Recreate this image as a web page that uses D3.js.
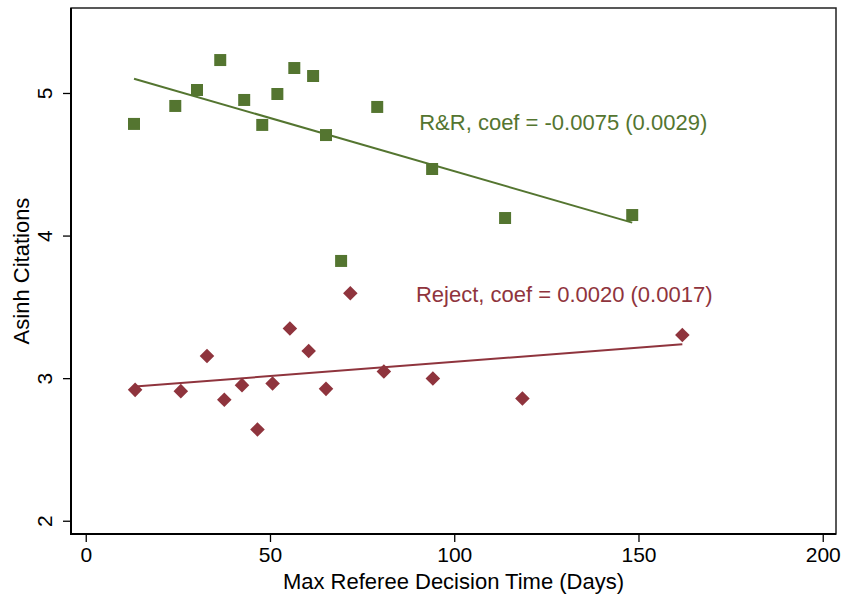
<!DOCTYPE html>
<html>
<head>
<meta charset="utf-8">
<script src="https://cdn.jsdelivr.net/npm/d3@7"></script>
<style>
  html, body { margin: 0; padding: 0; background: #fff; }
  svg { display: block; font-family: "Liberation Sans", Arial, sans-serif; }
</style>
</head>
<body>
<svg id="chart" width="842" height="597"></svg>
<script>
// ---- data ----
const rrDays = [13.1, 24.3, 30.2, 36.5, 43.0, 47.9, 52.0, 56.6, 61.7, 65.2, 69.3, 79.1, 94.0, 113.8, 148.3];
const rrCites = [4.783, 4.909, 5.021, 5.231, 4.951, 4.776, 4.993, 5.175, 5.119, 4.705, 3.822, 4.902, 4.467, 4.123, 4.144];
const rjDays = [13.4, 25.8, 32.9, 37.6, 42.4, 46.6, 50.7, 55.4, 60.5, 65.2, 71.8, 80.9, 94.2, 118.5, 161.9];
const rjCites = [2.918, 2.909, 3.156, 2.848, 2.951, 2.640, 2.962, 3.348, 3.191, 2.925, 3.596, 3.046, 2.997, 2.857, 3.302];
const rrFit = [[13.1, 5.100], [148.3, 4.091]];
const rjFit = [[13.4, 2.941], [161.9, 3.238]];
const xTicks = [0, 50, 100, 150, 200];
const yTicks = [2, 3, 4, 5];
const rrLabel = "R&R, coef = -0.0075 (0.0029)";
const rjLabel = "Reject, coef = 0.0020 (0.0017)";
const rrLabelPos = [90.5, 4.7405];
const rjLabelPos = [89.6, 3.537];
const xTitle = "Max Referee Decision Time (Days)";
const yTitle = "Asinh Citations";

// ---- layout ----
const green = "#547530", red = "#8f343d";
const pL = 71, pR = 836, pT = 8, pB = 534;
const svg = d3.select("#chart");
const x = d3.scaleLinear().domain([-4, 203.6]).range([pL, pR]);
const y = d3.scaleLinear().domain([1.907, 5.596]).range([pB, pT]);

// frame
svg.append("rect").attr("x", pL).attr("y", pT)
  .attr("width", pR - pL).attr("height", pB - pT)
  .attr("fill", "none").attr("stroke", "#222").attr("stroke-width", 1.5);

// axes
const xAxis = svg.append("g").attr("transform", `translate(0,${pB})`)
  .call(d3.axisBottom(x).tickValues(xTicks).tickSize(8).tickPadding(5).tickFormat(d3.format("d")));
const yAxis = svg.append("g").attr("transform", `translate(${pL},0)`)
  .call(d3.axisLeft(y).tickValues(yTicks).tickSize(8).tickPadding(10).tickFormat(d3.format("d")));
[xAxis, yAxis].forEach(g => {
  g.select(".domain").remove();
  g.selectAll("line").attr("stroke", "#000").attr("stroke-width", 1.3);
  g.selectAll("text").attr("fill", "#000").style("font-size", "21px")
    .style("font-family", '"Liberation Sans", Arial, sans-serif');
});
yAxis.selectAll(".tick text")
  .attr("x", null).attr("dy", null)
  .attr("text-anchor", "middle")
  .attr("transform", "translate(-26,0) rotate(-90)")
  .attr("dy", "0.35em");
// left and bottom axis lines, thicker
svg.append("line").attr("x1", pL).attr("x2", pL).attr("y1", pT).attr("y2", pB + 1)
  .attr("stroke", "#000").attr("stroke-width", 2);
svg.append("line").attr("x1", pL - 1).attr("x2", pR).attr("y1", pB).attr("y2", pB)
  .attr("stroke", "#000").attr("stroke-width", 2);

// axis titles
svg.append("text").attr("x", (pL + pR) / 2).attr("y", 589)
  .attr("text-anchor", "middle").style("font-size", "22px").attr("fill", "#000").text(xTitle);
svg.append("text").attr("transform", `translate(29,${(pT + pB) / 2}) rotate(-90)`)
  .attr("text-anchor", "middle").style("font-size", "22px").attr("fill", "#000").text(yTitle);

// fit lines
const line = d3.line().x(d => x(d[0])).y(d => y(d[1]));
svg.append("path").datum(rrFit).attr("d", line).attr("stroke", green).attr("stroke-width", 2).attr("fill", "none");
svg.append("path").datum(rjFit).attr("d", line).attr("stroke", red).attr("stroke-width", 2).attr("fill", "none");

// markers
const sq = d3.symbol().type(d3.symbolSquare).size(144);
svg.append("g").selectAll("path").data(rrDays.map((d, i) => [d, rrCites[i]])).join("path")
  .attr("d", sq).attr("transform", d => `translate(${x(d[0])},${y(d[1])})`).attr("fill", green);
const dm = d3.symbol().type(d3.symbolSquare).size(106);
svg.append("g").selectAll("path").data(rjDays.map((d, i) => [d, rjCites[i]])).join("path")
  .attr("d", dm).attr("transform", d => `translate(${x(d[0])},${y(d[1])}) rotate(45)`).attr("fill", red);

// annotations
svg.append("text").attr("x", x(rrLabelPos[0])).attr("y", y(rrLabelPos[1]))
  .style("font-size", "22px").attr("fill", green).text(rrLabel);
svg.append("text").attr("x", x(rjLabelPos[0])).attr("y", y(rjLabelPos[1]))
  .style("font-size", "22px").attr("fill", red).text(rjLabel);
</script>
</body>
</html>
